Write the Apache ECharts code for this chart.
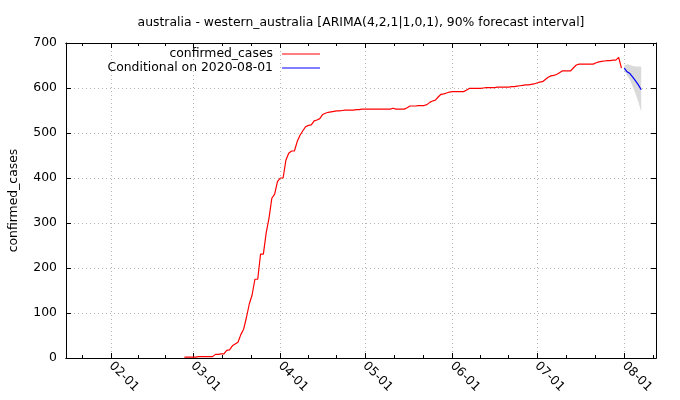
<!DOCTYPE html>
<html>
<head>
<meta charset="utf-8">
<script src="https://cdn.jsdelivr.net/npm/echarts@6/dist/echarts.min.js"></script>
<style>
  html, body { margin: 0; padding: 0; background: #fff; }
  #main { width: 680px; height: 400px; }
</style>
</head>
<body>
<div id="main"></div>
<script>
// daily cumulative cases, first value is 2020-02-27
const confirmedStart = '2020-02-27';
const confirmed = [
  2, 2, 2, 2, 2,                                   // 02-27 .. 03-02
  3, 3, 3, 3, 3, 3,                                // 03-03 .. 03-08
  8, 8, 9, 9, 17, 18,                              // 03-09 .. 03-14
  27, 31, 35, 52, 64, 90,                          // 03-15 .. 03-20
  120, 140, 175, 175, 231, 231, 278, 311, 355, 364, 392, // 03-21 .. 03-31
  400, 400, 440, 455, 460, 460, 481, 495, 505, 514,      // 04-01 .. 04-10
  517, 518, 527, 529, 532, 541, 544, 546, 547, 548,      // 04-11 .. 04-20
  549, 549, 550, 551, 551, 551, 551, 552, 552, 553,      // 04-21 .. 04-30
  553, 553, 553, 553, 553, 553, 553, 553, 553, 553,      // 05-01 .. 05-10
  555, 553, 553, 553, 553, 556, 560, 560, 560, 561,      // 05-11 .. 05-20
  561, 561, 563, 568, 571, 573, 580, 586, 587, 589, 591, // 05-21 .. 05-31
  592, 592, 592, 592, 592, 595, 599, 599, 599, 599,      // 06-01 .. 06-10
  599, 600, 601, 601, 601, 601, 602, 602, 602, 602,      // 06-11 .. 06-20
  602, 603, 603, 604, 605, 606, 607, 607, 608, 609,      // 06-21 .. 06-30
  611, 613, 614, 619, 624, 627, 628, 630, 634, 638,      // 07-01 .. 07-10
  638, 638, 638, 645, 651, 653, 653, 653, 653, 653,      // 07-11 .. 07-20
  653, 656, 658, 659, 660, 661, 661, 662, 662, 668, 644  // 07-21 .. 07-31
];

// forecast conditional on 2020-08-01
const forecastStart = '2020-08-01';
const forecast = [644, 636, 632, 624, 616, 607, 596];
const forecastLower = [640, 628, 618, 603, 587, 569, 547];
const forecastUpper = [650, 653, 651, 649, 648, 648, 647];

const monthTicks = ['2020-02-01', '2020-03-01', '2020-04-01', '2020-05-01', '2020-06-01', '2020-07-01', '2020-08-01'];
const yTicks = [0, 100, 200, 300, 400, 500, 600, 700];

const DAY = 86400000;
function toTime(s) {
  const p = s.split('-').map(Number);
  return Date.UTC(p[0], p[1] - 1, p[2]);
}
function series(start, vals) {
  const t0 = toTime(start);
  return vals.map((v, i) => [t0 + i * DAY, v]);
}
function pad(n) { return (n < 10 ? '0' : '') + n; }

const xMin = toTime('2020-01-16');
const xMax = toTime('2020-08-12') + 0.25 * DAY;
const majorTicks = monthTicks.map(toTime);

// three minor intervals per month
const minorTicks = [];
const edges = [toTime('2020-01-01')].concat(majorTicks, [toTime('2020-09-01')]);
for (let i = 0; i < edges.length - 1; i++) {
  const step = (edges[i + 1] - edges[i]) / 3;
  for (let k = 1; k < 3; k++) {
    const t = edges[i] + k * step;
    if (t > xMin && t < xMax) minorTicks.push(t);
  }
}

const font = 'DejaVu Sans';
const fs = 12.4;
const gridLine = { show: true, lineStyle: { color: '#b4b4b4', width: 1, type: [1, 3] } };
const border = { show: true, lineStyle: { color: '#000', width: 1 } };

function xAx(pos, ticks, len, withLabels) {
  return {
    type: 'value', position: pos, min: xMin, max: xMax,
    axisLine: border,
    axisTick: { show: true, inside: true, length: len, customValues: ticks, lineStyle: { color: '#000' } },
    axisLabel: withLabels ? {
      show: true, customValues: ticks, rotate: -45, margin: 6,
      fontFamily: font, fontSize: fs, color: '#000',
      formatter: v => { const d = new Date(v); return pad(d.getUTCMonth() + 1) + '-' + pad(d.getUTCDate()); }
    } : { show: false },
    splitLine: withLabels ? gridLine : { show: false }
  };
}

// [time, lower, upper]
const band = forecastLower.map((lo, i) => [toTime(forecastStart) + i * DAY, lo, forecastUpper[i]]);

const option = {
  animation: false,
  backgroundColor: '#fff',
  textStyle: { fontFamily: font },
  title: {
    text: 'australia - western_australia [ARIMA(4,2,1|1,0,1), 90% forecast interval]',
    left: 356, top: 12, textAlign: 'center',
    textStyle: { fontFamily: font, fontSize: fs, fontWeight: 'normal', color: '#000' }
  },
  legend: [
    {
      data: ['confirmed_cases'], right: 360, top: 48, padding: 0, align: 'right',
      icon: 'rect', itemWidth: 38, itemHeight: 1.2,
      textStyle: { fontFamily: font, fontSize: fs, color: '#000', padding: [0, 4, 0, 0] }
    },
    {
      data: ['Conditional on 2020-08-01'], right: 360, top: 62, padding: 0, align: 'right',
      icon: 'rect', itemWidth: 38, itemHeight: 1.2,
      textStyle: { fontFamily: font, fontSize: fs, color: '#000', padding: [0, 4, 0, 0] }
    }
  ],
  grid: { left: 66, right: 24, top: 43, bottom: 42 },
  xAxis: [
    xAx('bottom', majorTicks, 5, true),
    xAx('bottom', minorTicks, 3, false),
    xAx('top', majorTicks, 5, false),
    xAx('top', minorTicks, 3, false)
  ],
  yAxis: [
    {
      type: 'value', position: 'left', min: yTicks[0], max: yTicks[yTicks.length - 1], interval: 100,
      name: 'confirmed_cases', nameLocation: 'middle', nameGap: 46,
      nameTextStyle: { fontFamily: font, fontSize: fs, color: '#000' },
      axisLine: border,
      axisTick: { show: true, inside: true, length: 5, lineStyle: { color: '#000' } },
      axisLabel: { fontFamily: font, fontSize: fs, color: '#000', margin: 9 },
      splitLine: gridLine
    },
    {
      type: 'value', position: 'right', min: yTicks[0], max: yTicks[yTicks.length - 1], interval: 100,
      axisLine: border,
      axisTick: { show: true, inside: true, length: 5, lineStyle: { color: '#000' } },
      axisLabel: { show: false },
      splitLine: { show: false }
    }
  ],
  series: [
    {
      name: 'interval', type: 'custom', silent: true, data: band,
      encode: { x: 0, y: [1, 2] },
      renderItem: function (params, api) {
        if (params.dataIndex !== 0) return null;
        const pts = [];
        band.forEach(r => pts.push(api.coord([r[0], r[2]])));
        band.slice().reverse().forEach(r => pts.push(api.coord([r[0], r[1]])));
        return { type: 'polygon', shape: { points: pts }, style: { fill: '#dadada' } };
      }
    },
    {
      name: 'confirmed_cases', type: 'line', data: series(confirmedStart, confirmed),
      showSymbol: false, color: '#ff0000', lineStyle: { width: 1.2, color: '#ff0000' }
    },
    {
      name: 'Conditional on 2020-08-01', type: 'line', data: series(forecastStart, forecast),
      showSymbol: false, color: '#0000ff', lineStyle: { width: 1.2, color: '#0000ff' }
    }
  ]
};

const chart = echarts.init(document.getElementById('main'));
chart.setOption(option);
</script>
</body>
</html>
